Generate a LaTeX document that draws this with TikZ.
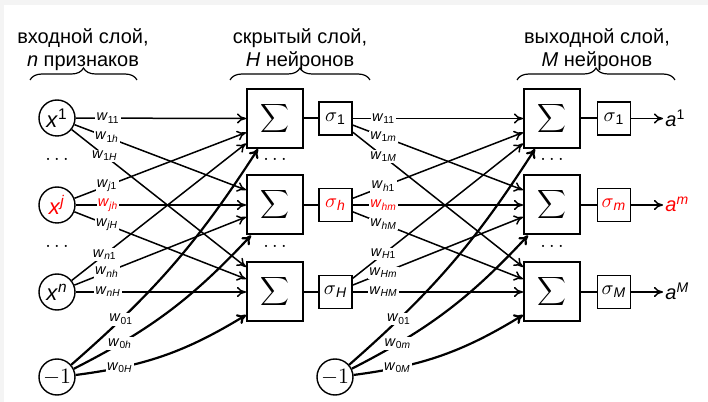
\documentclass[tikz,border=0pt]{standalone}
\usepackage{fontspec}
\setmainfont{Liberation Sans}
\usetikzlibrary{calc,decorations.pathreplacing,arrows.meta}
\definecolor{bordergray}{HTML}{F4F4F4}
\newcommand\wl[1]{\textit{w}\textsubscript{#1}}
\newcommand\iv[1]{\textit{#1}}
\begin{document}
\begin{tikzpicture}[x=0.5pt,y=0.5pt,
  font=\fontsize{10}{11.5}\selectfont,
  neuron/.style={circle,draw,line width=0.7pt,minimum size=18pt,inner sep=0pt,font=\fontsize{11}{12}\selectfont},
  sumbox/.style={draw,line width=1pt,minimum width=28pt,minimum height=29.5pt,inner sep=0pt},
  actbox/.style={draw,line width=0.9pt,minimum width=16.5pt,minimum height=16.5pt,inner sep=1.5pt},
  conn/.style={line width=0.75pt,-{To[length=4.5pt,width=5pt]}},
  biasc/.style={line width=1.1pt,-{To[length=4.5pt,width=5.5pt]}},
  link/.style={line width=1pt},
  lab/.style={fill=white,inner sep=0.6pt,font=\fontsize{7.3}{8}\selectfont},
  dotsn/.style={inner sep=0pt},
  brc/.style={decorate,decoration={brace,amplitude=6pt},line width=0.6pt}]
\useasboundingbox (0,0) rectangle (708,402);
\fill[bordergray] (0,0) rectangle (708,402);
\fill[white] (4,0) rectangle (708,397);

% headers
\node[align=center] (h1) at (83,352) {входной слой,\\\iv{n} признаков};
\node[align=center] (h2) at (300,352) {скрытый слой,\\\iv{H} нейронов};
\node[align=center] (h3) at (597,352) {выходной слой,\\\iv{M} нейронов};
\draw[brc] (30,322) -- (137,322);
\draw[brc] (230,322) -- (370,322);
\draw[brc] (517,322) -- (675,322);

% input layer
\node[neuron] (x1) at (57,284) {\iv{x}\textsuperscript{1}};
\node[neuron,text=red] (xj) at (57,197) {\iv{x}\textsuperscript{\iv{j}}};
\node[neuron] (xn) at (57,110) {\iv{x}\textsuperscript{\iv{n}}};
\node[neuron] (b1) at (57,25) {$-1$};
\node[dotsn] (di1) at (57,243) {$\ldots$};
\node[dotsn] (di2) at (57,156) {$\ldots$};

% hidden layer
\node[sumbox] (S1) at (275,283.5) {$\displaystyle\sum$};
\node[sumbox] (Sh) at (275,197) {$\displaystyle\sum$};
\node[sumbox] (SH) at (275,110) {$\displaystyle\sum$};
\node[dotsn] (dh1) at (275,243) {$\ldots$};
\node[dotsn] (dh2) at (275,156) {$\ldots$};
\node[actbox] (s1) at (335.5,283.5) {$\sigma$\textsubscript{1}};
\node[actbox,text=red] (sh) at (335.5,197) {$\sigma$\textsubscript{\iv{h}}};
\node[actbox] (sH) at (335.5,110) {$\sigma$\textsubscript{\iv{H}}};
\node[neuron] (b2) at (335,25) {$-1$};
\draw[link] (S1) -- (s1);
\draw[link] (Sh) -- (sh);
\draw[link] (SH) -- (sH);

% output layer
\node[sumbox] (O1) at (552,283.5) {$\displaystyle\sum$};
\node[sumbox] (Om) at (552,197) {$\displaystyle\sum$};
\node[sumbox] (OM) at (552,110) {$\displaystyle\sum$};
\node[dotsn] (do1) at (552,243) {$\ldots$};
\node[dotsn] (do2) at (552,156) {$\ldots$};
\node[actbox] (t1) at (614,283.5) {$\sigma$\textsubscript{1}};
\node[actbox,text=red] (tm) at (614,197) {$\sigma$\textsubscript{\iv{m}}};
\node[actbox] (tM) at (614,110) {$\sigma$\textsubscript{\iv{M}}};
\node[anchor=west,inner sep=1pt] (a1) at (663,284) {\iv{a}\textsuperscript{1}};
\node[anchor=west,inner sep=1pt,text=red] (am) at (663,197.5) {\iv{a}\textsuperscript{\iv{m}}};
\node[anchor=west,inner sep=1pt] (aM) at (663,110.5) {\iv{a}\textsuperscript{\iv{M}}};
\draw[link] (O1) -- (t1);
\draw[link] (Om) -- (tm);
\draw[link] (OM) -- (tM);
\draw[conn] (t1) -- (t1 -| a1.west);
\draw[conn] (tm) -- (tm -| am.west);
\draw[conn] (tM) -- (tM -| aM.west);

% input -> hidden
\draw[conn] (x1) -- node[lab,pos=0.19]{\wl{11}} (S1.west);
\draw[conn] (x1) -- node[lab,pos=0.19]{\wl{1\iv{h}}} ($(Sh.west)+(0,15)$);
\draw[conn] (x1) -- node[lab,pos=0.19]{\wl{1\iv{H}}} ($(SH.west)+(0,25)$);
\draw[conn] (xj) -- node[lab,pos=0.19]{\wl{\iv{j}1}} ($(S1.west)+(0,-14)$);
\draw[conn] (xj) -- node[lab,pos=0.19,text=red]{\wl{\iv{jh}}} (Sh.west);
\draw[conn] (xj) -- node[lab,pos=0.19]{\wl{\iv{jH}}} ($(SH.west)+(0,13)$);
\draw[conn] (xn) -- node[lab,pos=0.19]{\wl{\iv{n}1}} ($(S1.west)+(0,-25)$);
\draw[conn] (xn) -- node[lab,pos=0.19]{\wl{\iv{nh}}} ($(Sh.west)+(0,-12)$);
\draw[conn] (xn) -- node[lab,pos=0.19]{\wl{\iv{nH}}} (SH.west);
\draw[biasc] (b1) to[bend right=8] node[lab,pos=0.22]{\wl{01}} ($(S1.south)+(-17,0)$);
\draw[biasc] (b1) to[bend right=10] node[lab,pos=0.22]{\wl{0\iv{h}}} ($(Sh.south)+(-24,0)$);
\draw[biasc] (b1) to[bend right=12] node[lab,pos=0.23]{\wl{0\iv{H}}} ($(SH.west)+(0,-23)$);

% hidden -> output
\draw[conn] (s1) -- node[lab,pos=0.18]{\wl{11}} (O1.west);
\draw[conn] (s1) -- node[lab,pos=0.18]{\wl{1\iv{m}}} ($(Om.west)+(0,15)$);
\draw[conn] (s1) -- node[lab,pos=0.18]{\wl{1\iv{M}}} ($(OM.west)+(0,25)$);
\draw[conn] (sh) -- node[lab,pos=0.18]{\wl{\iv{h}1}} ($(O1.west)+(0,-14)$);
\draw[conn] (sh) -- node[lab,pos=0.18,text=red]{\wl{\iv{hm}}} (Om.west);
\draw[conn] (sh) -- node[lab,pos=0.18]{\wl{\iv{hM}}} ($(OM.west)+(0,13)$);
\draw[conn] (sH) -- node[lab,pos=0.18]{\wl{\iv{H}1}} ($(O1.west)+(0,-25)$);
\draw[conn] (sH) -- node[lab,pos=0.18]{\wl{\iv{Hm}}} ($(Om.west)+(0,-12)$);
\draw[conn] (sH) -- node[lab,pos=0.18]{\wl{\iv{HM}}} (OM.west);
\draw[biasc] (b2) to[bend right=8] node[lab,pos=0.22]{\wl{01}} ($(O1.south)+(-17,0)$);
\draw[biasc] (b2) to[bend right=10] node[lab,pos=0.22]{\wl{0\iv{m}}} ($(Om.south)+(-24,0)$);
\draw[biasc] (b2) to[bend right=12] node[lab,pos=0.23]{\wl{0\iv{M}}} ($(OM.west)+(0,-23)$);
\end{tikzpicture}
\end{document}
